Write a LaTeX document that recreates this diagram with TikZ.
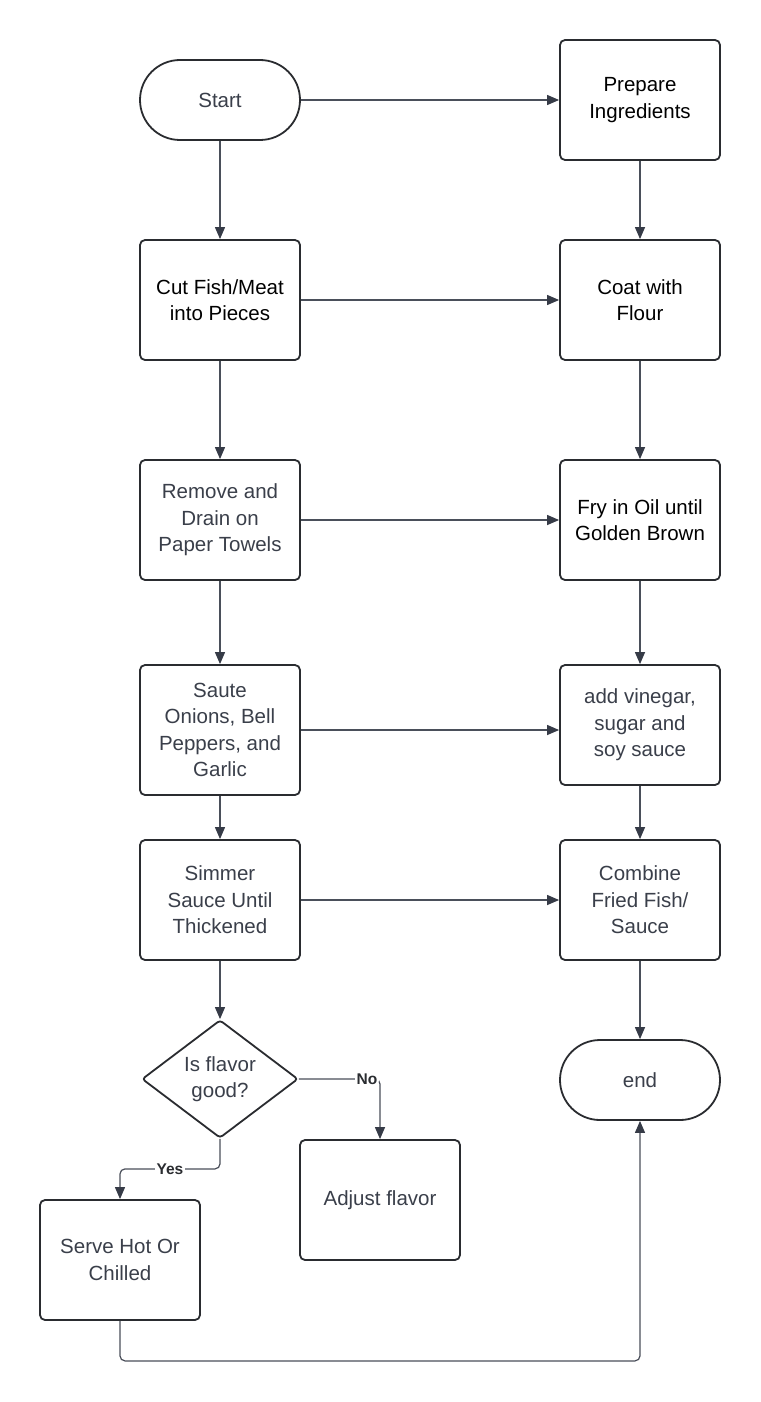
\documentclass[tikz,border=0pt]{standalone}
\usepackage{fontspec}
\setmainfont{Liberation Sans}
\usetikzlibrary{shapes.geometric,arrows.meta}
\definecolor{txt}{HTML}{3A3F4A}
\definecolor{boxc}{HTML}{2A2C30}
\definecolor{linec}{HTML}{4A4F5A}
\definecolor{headc}{HTML}{363B47}
\begin{document}
\begin{tikzpicture}[x=1pt,y=-1pt,
  box/.style={draw=boxc, line width=1.8pt, rounded corners=5pt, minimum width=160pt, minimum height=120pt, align=center, font=\fontsize{20.5}{26.5}\selectfont, text=txt, inner sep=0pt, fill=white},
  pill/.style={box, minimum height=80pt, rounded corners=40pt},
  dark/.style={text=black},
  dia/.style={draw=boxc, line width=1.8pt, diamond, rounded corners=3pt, minimum width=156pt, minimum height=118pt, align=center, font=\fontsize{20.5}{26.5}\selectfont, text=txt, inner sep=0pt},
  conn/.style={draw=linec, line width=1.2pt, -{Triangle[length=12pt,width=10pt,color=headc]}},
  lbl/.style={fill=white, font=\bfseries\fontsize{15.5}{18}\selectfont, text=boxc, inner sep=1.5pt}
]
\useasboundingbox (0,0) rectangle (760,1402);
\fill[white] (0,0) rectangle (760,1402);

\node[pill] (start) at (220,100) {Start};
\node[box,dark] (prep) at (640,100) {Prepare\\Ingredients};
\node[box,dark] (cut) at (220,300) {Cut Fish/Meat\\into Pieces};
\node[box,dark] (coat) at (640,300) {Coat with\\Flour};
\node[box] (remove) at (220,520) {Remove and\\Drain on\\Paper Towels};
\node[box,dark] (fry) at (640,520) {Fry in Oil until\\Golden Brown};
\node[box, minimum height=130pt] (saute) at (220,730) {Saute\\Onions, Bell\\Peppers, and\\Garlic};
\node[box] (vin) at (640,725) {add vinegar,\\sugar and\\soy sauce};
\node[box] (simmer) at (220,900) {Simmer\\Sauce Until\\Thickened};
\node[box] (comb) at (640,900) {Combine\\Fried Fish/\\Sauce};
\node[dia] (flav) at (220,1079) {Is flavor\\good?};
\node[pill] (end) at (640,1080) {end};
\node[box] (adj) at (380,1200) {Adjust flavor};
\node[box] (serve) at (120,1260) {Serve Hot Or\\Chilled};

\draw[conn] (start) -- (prep);
\draw[conn] (start) -- (cut);
\draw[conn] (prep) -- (coat);
\draw[conn] (cut) -- (coat);
\draw[conn] (cut) -- (remove);
\draw[conn] (coat) -- (fry);
\draw[conn] (remove) -- (fry);
\draw[conn] (remove) -- (saute);
\draw[conn] (fry) -- (vin);
\draw[conn] (saute.east) -- (saute.east -| vin.west);
\draw[conn] (saute) -- (simmer);
\draw[conn] (vin) -- (comb);
\draw[conn] (simmer) -- (comb);
\draw[conn] (comb) -- (end);
\draw[conn] (simmer) -- (flav);
\draw[conn, rounded corners=5pt] (flav.east) -| node[pos=0.42,lbl]{No} (adj.north);
\draw[conn, rounded corners=5pt] (flav.south) -- ++(0,30) coordinate (yb) -| node[pos=0.25,lbl]{Yes} (serve.north);
\draw[conn, rounded corners=5pt] (serve.south) -- ++(0,40) coordinate (sb) -| (end.south);
\end{tikzpicture}
\end{document}
